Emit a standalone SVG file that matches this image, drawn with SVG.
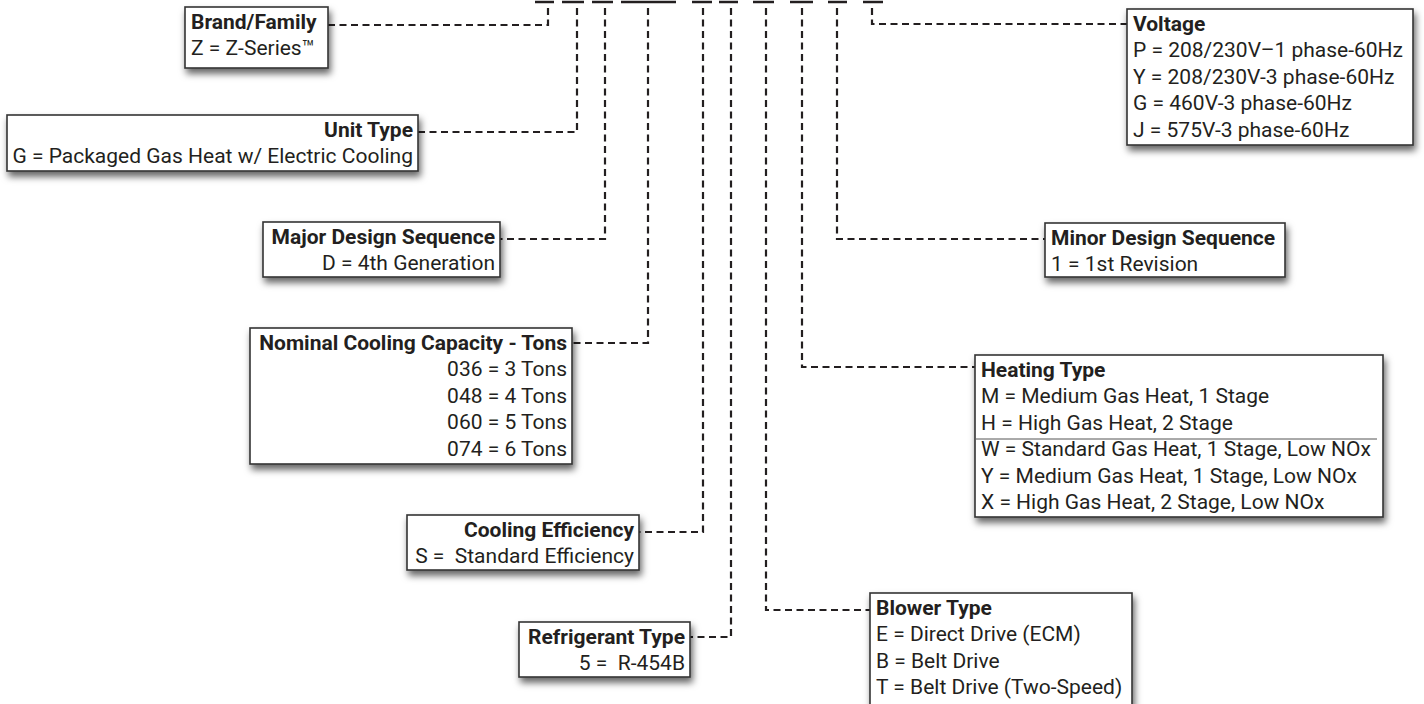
<svg xmlns="http://www.w3.org/2000/svg" width="1424" height="704" viewBox="0 0 1424 704">
<defs>
<filter id="sh" x="-10%" y="-20%" width="125%" height="150%">
<feDropShadow dx="2" dy="5" stdDeviation="3.5" flood-color="#000" flood-opacity="0.6"/>
</filter>
<style>
.box{fill:#fff;stroke:#333;stroke-width:1.6;filter:url(#sh)}
.t{font-family:Roboto,"Liberation Sans",sans-serif;font-size:21px;fill:#231f20}
.b{font-weight:bold}
.r{text-anchor:end}
.c{fill:none;stroke:#231f20;stroke-width:2.2;stroke-dasharray:7 4.5}
.u{stroke:#231f20;stroke-width:2.5}
.sep{stroke:#555;stroke-width:1}
</style>
</defs>
<rect width="1424" height="704" fill="#fff"/>
<g id="slots">
<line class="u" x1="535" y1="2" x2="554" y2="2"/>
<line class="u" x1="562" y1="2" x2="584" y2="2"/>
<line class="u" x1="592" y1="2" x2="613" y2="2"/>
<line class="u" x1="621" y1="2" x2="676" y2="2"/>
<line class="u" x1="692" y1="2" x2="712" y2="2"/>
<line class="u" x1="719" y1="2" x2="738" y2="2"/>
<line class="u" x1="753" y1="2" x2="774" y2="2"/>
<line class="u" x1="790" y1="2" x2="813" y2="2"/>
<line class="u" x1="828" y1="2" x2="847" y2="2"/>
<line class="u" x1="863" y1="2" x2="883" y2="2"/>
</g>
<g id="connectors">
<path class="c" d="M548 8V25H328"/>
<path class="c" d="M577 8V132H418"/>
<path class="c" d="M605 8V239H500"/>
<path class="c" d="M648 8V343H572"/>
<path class="c" d="M703 8V532H639"/>
<path class="c" d="M731 8V637H690"/>
<path class="c" d="M766 8V610H870"/>
<path class="c" d="M802 8V367H975"/>
<path class="c" d="M837 8V239H1045"/>
<path class="c" d="M872 8V24H1127"/>
</g>
<g id="brand">
<rect class="box" x="185" y="7" width="143" height="61"/>
<text class="t b" x="191" y="28.5">Brand/Family</text>
<text class="t" x="191" y="55">Z = Z-Series™</text>
</g>
<g id="unit-type">
<rect class="box" x="7" y="115" width="411" height="56"/>
<text class="t b r" x="413" y="136.5">Unit Type</text>
<text class="t r" x="413" y="163">G = Packaged Gas Heat w/ Electric Cooling</text>
</g>
<g id="major-design">
<rect class="box" x="263" y="222" width="237" height="55"/>
<text class="t b r" x="495" y="243.5">Major Design Sequence</text>
<text class="t r" x="495" y="270">D = 4th Generation</text>
</g>
<g id="nominal-cooling">
<rect class="box" x="250" y="328" width="322" height="136"/>
<text class="t b r" x="567" y="349.5">Nominal Cooling Capacity - Tons</text>
<text class="t r" x="567" y="376">036 = 3 Tons</text>
<text class="t r" x="567" y="402.5">048 = 4 Tons</text>
<text class="t r" x="567" y="429">060 = 5 Tons</text>
<text class="t r" x="567" y="455.5">074 = 6 Tons</text>
</g>
<g id="cooling-efficiency">
<rect class="box" x="407" y="515" width="232" height="55"/>
<text class="t b r" x="634" y="536.5">Cooling Efficiency</text>
<text class="t r" x="634" y="563" xml:space="preserve">S =  Standard Efficiency</text>
</g>
<g id="refrigerant">
<rect class="box" x="519" y="622" width="171" height="55"/>
<text class="t b r" x="685" y="643.5">Refrigerant Type</text>
<text class="t r" x="685" y="670" xml:space="preserve">5 =  R-454B</text>
</g>
<g id="blower">
<rect class="box" x="870" y="593" width="262" height="112"/>
<text class="t b" x="876" y="614.5">Blower Type</text>
<text class="t" x="876" y="641">E = Direct Drive (ECM)</text>
<text class="t" x="876" y="667.5">B = Belt Drive</text>
<text class="t" x="876" y="694">T = Belt Drive (Two-Speed)</text>
</g>
<g id="heating">
<rect class="box" x="975" y="355" width="408" height="162"/>
<text class="t b" x="981" y="376.5">Heating Type</text>
<text class="t" x="981" y="403">M = Medium Gas Heat, 1 Stage</text>
<text class="t" x="981" y="429.5">H = High Gas Heat, 2 Stage</text>
<line class="sep" x1="976" y1="439" x2="1377" y2="439"/>
<text class="t" x="981" y="456">W = Standard Gas Heat, 1 Stage, Low NOx</text>
<text class="t" x="981" y="482.5">Y = Medium Gas Heat, 1 Stage, Low NOx</text>
<text class="t" x="981" y="509">X = High Gas Heat, 2 Stage, Low NOx</text>
</g>
<g id="minor-design">
<rect class="box" x="1045" y="223" width="240" height="54"/>
<text class="t b" x="1051" y="244.5">Minor Design Sequence</text>
<text class="t" x="1051" y="271">1 = 1st Revision</text>
</g>
<g id="voltage">
<rect class="box" x="1127" y="9" width="286" height="136"/>
<text class="t b" x="1133" y="30.5">Voltage</text>
<text class="t" x="1133" y="57">P = 208/230V–1 phase-60Hz</text>
<text class="t" x="1133" y="83.5">Y = 208/230V-3 phase-60Hz</text>
<text class="t" x="1133" y="110">G = 460V-3 phase-60Hz</text>
<text class="t" x="1133" y="136.5">J = 575V-3 phase-60Hz</text>
</g>
</svg>
